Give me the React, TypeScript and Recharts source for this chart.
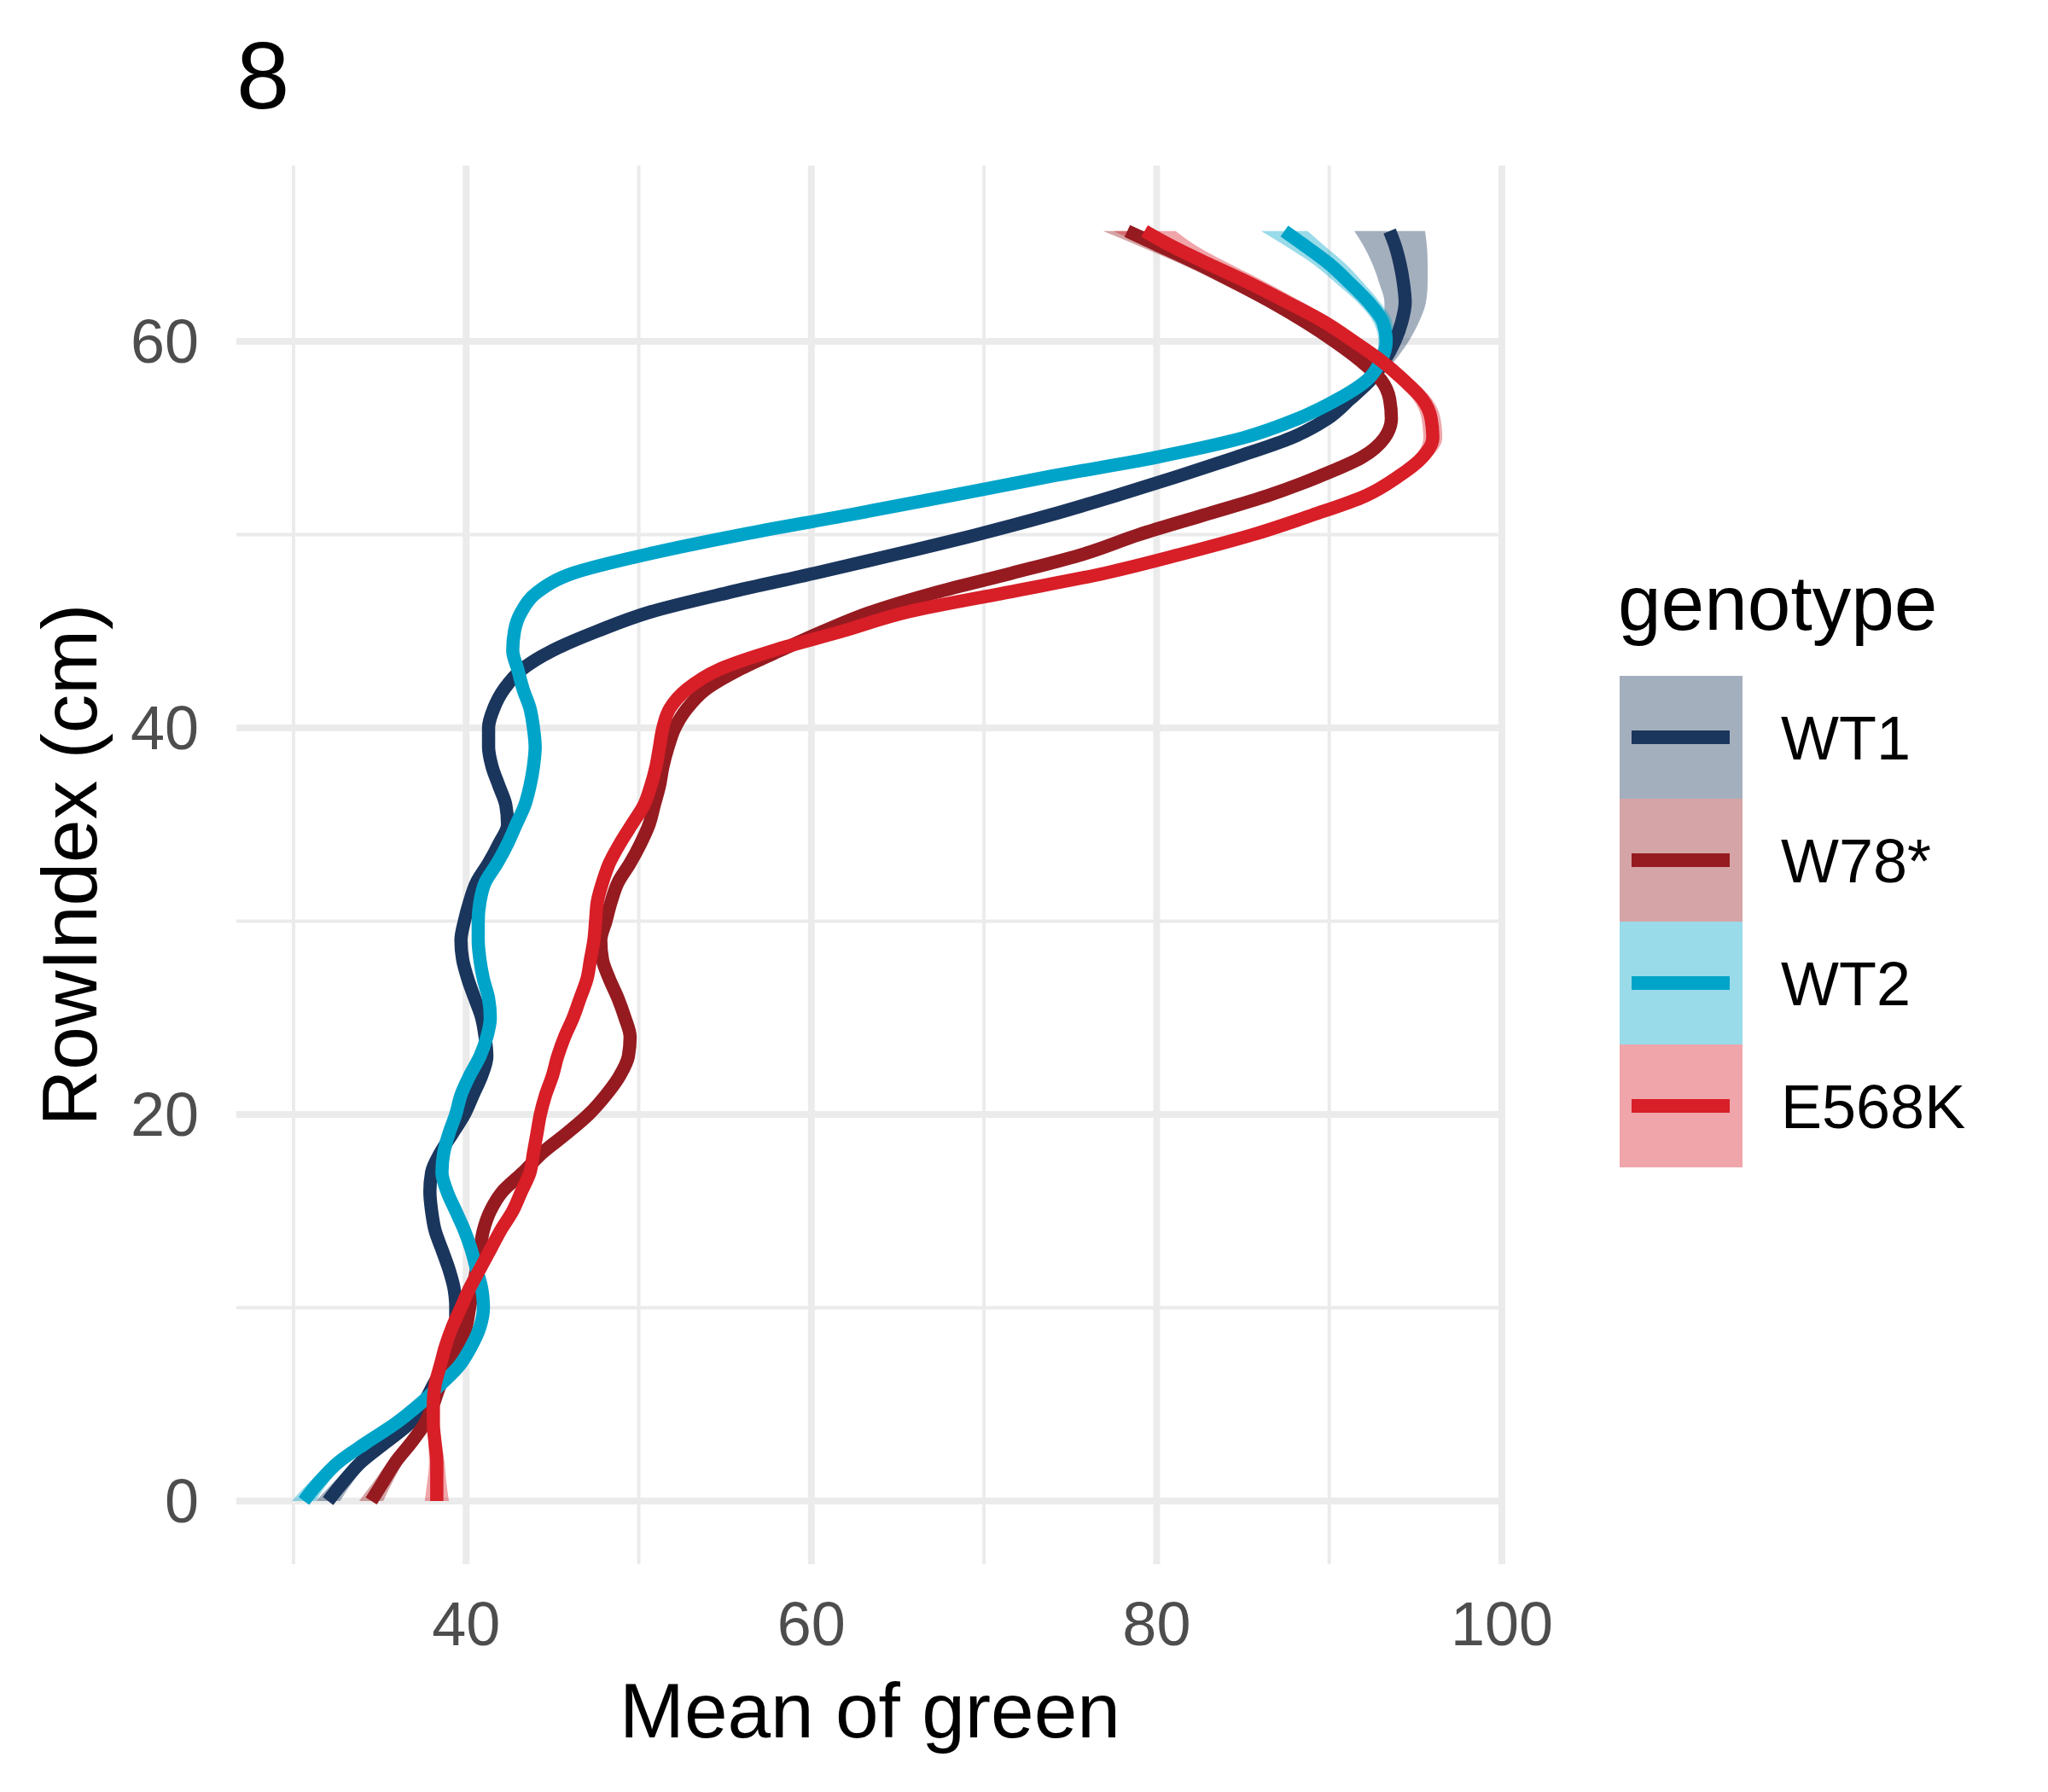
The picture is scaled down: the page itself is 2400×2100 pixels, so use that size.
import React from 'react'
import { ComposedChart, Line, Area, XAxis, YAxis, ReferenceLine, Label } from 'recharts'

const FONT = '"Liberation Sans", Arial, Helvetica, sans-serif'

// RowIndex (cm) grid shared by all smooths
const rowIndex = [
  0, 1, 2, 3, 4, 5, 6, 7, 8, 9, 10, 11, 12, 13, 14, 15, 16, 17, 18, 19, 20, 21, 22, 23, 24, 25, 26, 27, 28, 29,
  30, 31, 32, 33, 34, 35, 36, 37, 38, 39, 40, 41, 42, 43, 44, 45, 46, 47, 48, 49, 50, 51, 52, 53, 54, 55, 56, 57,
  58, 59, 60, 61, 62, 63, 64, 65, 65.7,
]

// smoothed mean of green, one value per row
const wt1Green = [
  32.0, 32.9, 33.9, 35.3, 36.7, 37.5, 38.1, 38.7, 39.2, 39.4, 39.4, 39.3, 39.0, 38.6, 38.2, 38.0, 37.9, 38.0, 38.5,
  39.2, 39.9, 40.4, 40.9, 41.2, 41.1, 40.9, 40.5, 40.1, 39.8, 39.7, 39.9, 40.2, 40.6, 41.3, 41.9, 42.4, 42.3, 41.9,
  41.5, 41.3, 41.3, 41.6, 42.2, 43.2, 45.0, 47.6, 50.7, 55.2, 60.2, 65.0, 69.6, 73.8, 77.6, 81.2, 84.6, 87.8, 89.9,
  91.2, 92.4, 93.2, 93.8, 94.2, 94.4, 94.3, 94.1, 93.8, 93.5,
]
const w78Green = [
  34.5, 35.2, 35.9, 36.8, 37.6, 38.1, 38.5, 39.1, 39.6, 40.0, 40.2, 40.4, 40.6, 40.8, 41.0, 41.4, 42.1, 43.3, 44.4,
  45.8, 47.1, 48.1, 48.9, 49.4, 49.5, 49.2, 48.8, 48.3, 47.9, 47.8, 48.1, 48.4, 48.8, 49.5, 50.1, 50.6, 50.9, 51.2,
  51.4, 51.7, 52.1, 52.8, 53.9, 55.8, 58.2, 60.7, 63.5, 67.2, 71.6, 75.8, 79.0, 82.7, 86.4, 89.4, 91.9, 93.2, 93.6,
  93.5, 93.0, 91.8, 90.3, 88.6, 86.7, 84.6, 82.4, 80.0, 78.3,
]
const wt2Green = [
  30.6, 31.5, 32.6, 34.2, 35.9, 37.3, 38.5, 39.6, 40.3, 40.8, 41.0, 40.9, 40.6, 40.3, 39.9, 39.4, 38.9, 38.6, 38.7,
  39.0, 39.4, 39.7, 40.2, 40.8, 41.2, 41.4, 41.3, 41.0, 40.8, 40.7, 40.7, 40.8, 41.1, 41.8, 42.4, 42.9, 43.4, 43.7,
  43.9, 44.0, 43.9, 43.7, 43.3, 43.0, 42.7, 42.8, 43.2, 44.1, 46.2, 50.6, 56.0, 62.1, 68.0, 73.8, 80.0, 85.0, 88.2,
  90.5, 92.2, 93.0, 93.3, 93.1, 92.3, 91.2, 90.0, 88.5, 87.4,
]
const e568kGreen = [
  38.3, 38.3, 38.3, 38.2, 38.1, 38.1, 38.2, 38.5, 38.8, 39.2, 39.7, 40.2, 40.8, 41.4, 42.0, 42.7, 43.2, 43.7, 43.9,
  44.1, 44.3, 44.6, 45.0, 45.3, 45.7, 46.2, 46.6, 47.0, 47.2, 47.4, 47.5, 47.6, 47.9, 48.3, 48.9, 49.6, 50.3, 50.7,
  51.0, 51.2, 51.4, 51.8, 52.8, 54.6, 57.8, 61.8, 65.6, 71.3, 77.0, 81.5, 85.6, 89.0, 92.1, 94.0, 95.4, 96.0, 95.9,
  95.4, 94.3, 93.0, 91.4, 89.7, 87.6, 85.4, 83.0, 80.7, 79.3,
]

// half width of the confidence band, one value per row
const wt1Se = [
  0.7, 0.55, 0.45, 0.38, 0.32, 0.28, 0.25, 0.25, 0.25, 0.25, 0.25, 0.25, 0.25, 0.25, 0.25, 0.25, 0.25, 0.25, 0.25,
  0.25, 0.25, 0.25, 0.25, 0.25, 0.25, 0.25, 0.25, 0.25, 0.25, 0.25, 0.25, 0.25, 0.25, 0.25, 0.25, 0.25, 0.25, 0.25,
  0.25, 0.25, 0.25, 0.25, 0.25, 0.25, 0.25, 0.25, 0.25, 0.25, 0.25, 0.25, 0.25, 0.25, 0.25, 0.25, 0.25, 0.25, 0.3,
  0.35, 0.45, 0.6, 0.8, 1.0, 1.2, 1.4, 1.6, 1.85, 2.05,
]
const w78Se = [
  0.7, 0.55, 0.45, 0.38, 0.32, 0.28, 0.25, 0.25, 0.25, 0.25, 0.25, 0.25, 0.25, 0.25, 0.25, 0.25, 0.25, 0.25, 0.25,
  0.25, 0.25, 0.25, 0.25, 0.25, 0.25, 0.25, 0.25, 0.25, 0.25, 0.25, 0.25, 0.25, 0.25, 0.25, 0.25, 0.25, 0.25, 0.25,
  0.25, 0.25, 0.25, 0.25, 0.25, 0.25, 0.25, 0.25, 0.25, 0.25, 0.25, 0.25, 0.25, 0.25, 0.25, 0.25, 0.25, 0.25, 0.25,
  0.3, 0.35, 0.4, 0.5, 0.6, 0.7, 0.85, 1.0, 1.2, 1.4,
]
const wt2Se = [
  0.7, 0.55, 0.45, 0.38, 0.32, 0.28, 0.25, 0.25, 0.25, 0.25, 0.25, 0.25, 0.25, 0.25, 0.25, 0.25, 0.25, 0.25, 0.25,
  0.25, 0.25, 0.25, 0.25, 0.25, 0.25, 0.25, 0.25, 0.25, 0.25, 0.25, 0.25, 0.25, 0.25, 0.25, 0.25, 0.25, 0.25, 0.25,
  0.25, 0.25, 0.25, 0.25, 0.25, 0.25, 0.25, 0.25, 0.25, 0.25, 0.25, 0.25, 0.25, 0.25, 0.25, 0.25, 0.25, 0.25, 0.25,
  0.3, 0.35, 0.4, 0.45, 0.55, 0.65, 0.8, 0.95, 1.15, 1.35,
]
const e568kSe = [
  0.7, 0.55, 0.45, 0.38, 0.32, 0.28, 0.25, 0.25, 0.25, 0.25, 0.25, 0.25, 0.25, 0.25, 0.25, 0.25, 0.25, 0.25, 0.25,
  0.25, 0.25, 0.25, 0.25, 0.25, 0.25, 0.25, 0.25, 0.25, 0.25, 0.25, 0.25, 0.25, 0.25, 0.25, 0.25, 0.25, 0.25, 0.25,
  0.25, 0.25, 0.25, 0.25, 0.25, 0.25, 0.25, 0.25, 0.25, 0.25, 0.25, 0.25, 0.3, 0.35, 0.4, 0.45, 0.5, 0.55, 0.55,
  0.55, 0.55, 0.6, 0.65, 0.75, 0.9, 1.05, 1.25, 1.5, 1.8,
]

const genotypes = ['WT1', 'W78*', 'WT2', 'E568K']
const genotypeColors = ['#1b365d', '#951b20', '#00a4c9', '#d81e27']

const xTicks = [40, 60, 80, 100]
const xMinorTicks = [30, 50, 70, 90]
const yTicks = [0, 20, 40, 60]
const yMinorTicks = [10, 30, 50]

const series = [
  { key: 'wt1', green: wt1Green, se: wt1Se },
  { key: 'w78', green: w78Green, se: w78Se },
  { key: 'wt2', green: wt2Green, se: wt2Se },
  { key: 'e568k', green: e568kGreen, se: e568kSe },
].map((s, i) => ({ ...s, name: genotypes[i], color: genotypeColors[i] }))

const data = rowIndex.map((row, i) => {
  const d: Record<string, any> = { row }
  series.forEach(s => {
    d[s.key] = s.green[i]
    d[s.key + 'Band'] = [s.green[i] - s.se[i], s.green[i] + s.se[i]]
  })
  return d
})

const tickStyle = { fontSize: 72, fill: '#4d4d4d', fontFamily: FONT }
const GRID = '#ebebeb'

function XTitle({ viewBox }: any) {
  const { x, y, width } = viewBox
  return (
    <text x={x + width / 2} y={y + 203} textAnchor="middle" fontSize={91} fontFamily={FONT} fill="#000">
      Mean of green
    </text>
  )
}

function YTitle({ viewBox }: any) {
  const { y, height } = viewBox
  const cy = y + height / 2
  return (
    <text x={113} y={cy} transform={`rotate(-90 113 ${cy})`} textAnchor="middle" fontSize={91} fontFamily={FONT} fill="#000">
      RowIndex (cm)
    </text>
  )
}

function GenotypeLegend() {
  return (
    <svg width={2400} height={2100} style={{ position: 'absolute', left: 0, top: 0, pointerEvents: 'none' }}>
      <text x={277} y={127} fontSize={112} fontFamily={FONT} fill="#000">8</text>
      <text x={1896} y={738} fontSize={91} fontFamily={FONT} fill="#000">genotype</text>
      {series.map((s, i) => (
        <g key={s.key}>
          <rect x={1898} y={792 + i * 144} width={144} height={144} fill={s.color} fillOpacity={0.4} />
          <line x1={1912} x2={2027} y1={864 + i * 144} y2={864 + i * 144} stroke={s.color} strokeWidth={16} />
          <text x={2087} y={890 + i * 144} fontSize={72} fontFamily={FONT} fill="#000">{s.name}</text>
        </g>
      ))}
    </svg>
  )
}

export default function App() {
  return (
    <div style={{ position: 'relative', width: 2400, height: 2100, background: '#fff' }}>
      <style>{'body{margin:0}'}</style>
      <ComposedChart
        layout="vertical"
        width={2400}
        height={2100}
        data={data}
        margin={{ top: 194, right: 638, bottom: 0, left: 0 }}
      >
        {/* ggplot-style grid: thin minor lines, thick major lines */}
        {xMinorTicks.map(v => (
          <ReferenceLine key={'xm' + v} x={v} stroke={GRID} strokeWidth={4} zIndex={-50} />
        ))}
        {yMinorTicks.map(v => (
          <ReferenceLine key={'ym' + v} y={v} stroke={GRID} strokeWidth={4} zIndex={-50} />
        ))}
        {xTicks.map(v => (
          <ReferenceLine key={'x' + v} x={v} stroke={GRID} strokeWidth={8} zIndex={-50} />
        ))}
        {yTicks.map(v => (
          <ReferenceLine key={'y' + v} y={v} stroke={GRID} strokeWidth={8} zIndex={-50} />
        ))}
        <XAxis
          type="number"
          domain={[26.69, 100.1]}
          allowDataOverflow
          ticks={xTicks}
          height={267}
          axisLine={false}
          tickLine={false}
          tickSize={0}
          tickMargin={44}
          tick={tickStyle}
        >
          <Label content={XTitle} />
        </XAxis>
        <YAxis
          type="number"
          dataKey="row"
          domain={[-3.27, 69.09]}
          allowDataOverflow
          reversed
          ticks={yTicks}
          width={277}
          axisLine={false}
          tickLine={false}
          tickSize={0}
          tickMargin={44}
          tick={tickStyle}
        >
          <Label content={YTitle} />
        </YAxis>
        {series.map(s => (
          <React.Fragment key={s.key}>
            <Area
              dataKey={s.key + 'Band'}
              type="monotone"
              fill={s.color}
              fillOpacity={0.4}
              stroke="none"
              isAnimationActive={false}
              activeDot={false}
            />
            <Line
              dataKey={s.key}
              name={s.name}
              type="monotone"
              stroke={s.color}
              strokeWidth={15.5}
              dot={false}
              activeDot={false}
              isAnimationActive={false}
            />
          </React.Fragment>
        ))}
      </ComposedChart>
      <GenotypeLegend />
    </div>
  )
}
